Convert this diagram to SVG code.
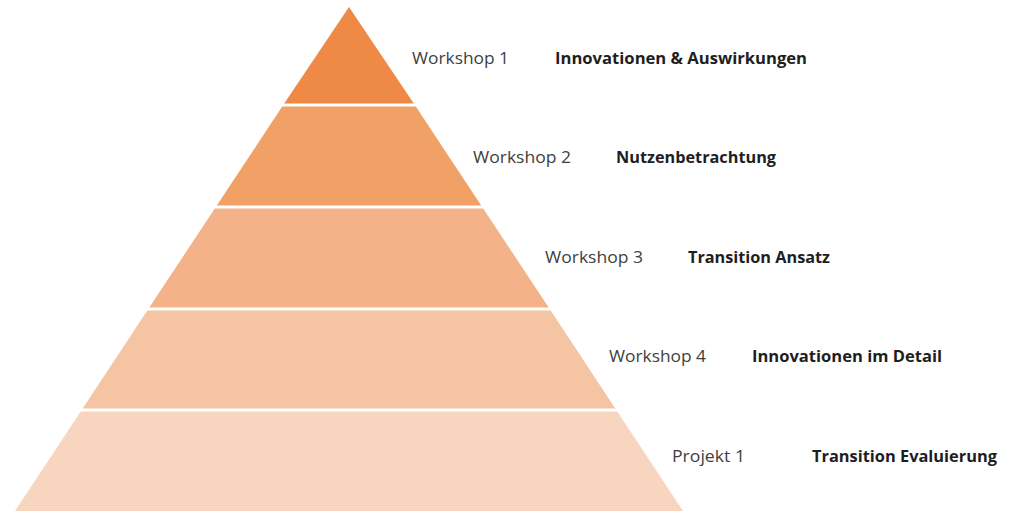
<svg xmlns="http://www.w3.org/2000/svg" width="1024" height="524" viewBox="0 0 1024 524">
<style>
.lbl{font-family:"Open Sans","Liberation Sans",sans-serif;font-size:16px;fill:#404040}
.ttl{font-family:"Open Sans","Liberation Sans",sans-serif;font-size:16px;font-weight:bold;fill:#1e1e1e}
.sep{stroke:#ffffff;stroke-width:3}
</style>
<rect width="1024" height="524" fill="#ffffff"/>
<g id="level1">
<polygon points="349,7 414.8,105 283.2,105" fill="#EE8A45"/>
<text class="lbl" x="412" y="64" textLength="97" lengthAdjust="spacingAndGlyphs">Workshop 1</text>
<text class="ttl" x="555" y="64" textLength="252" lengthAdjust="spacingAndGlyphs">Innovationen &amp; Auswirkungen</text>
</g>
<g id="level2">
<polygon points="283.2,105 414.8,105 482.2,207 215.8,207" fill="#F1A066"/>
<text class="lbl" x="473" y="163" textLength="98" lengthAdjust="spacingAndGlyphs">Workshop 2</text>
<text class="ttl" x="616" y="163" textLength="160" lengthAdjust="spacingAndGlyphs">Nutzenbetrachtung</text>
</g>
<g id="level3">
<polygon points="215.8,207 482.2,207 549.7,309 148.3,309" fill="#F3B287"/>
<text class="lbl" x="545" y="263" textLength="98" lengthAdjust="spacingAndGlyphs">Workshop 3</text>
<text class="ttl" x="688" y="263" textLength="142" lengthAdjust="spacingAndGlyphs">Transition Ansatz</text>
</g>
<g id="level4">
<polygon points="148.3,309 549.7,309 616.3,410 81.7,410" fill="#F5C4A2"/>
<text class="lbl" x="609" y="362" textLength="97" lengthAdjust="spacingAndGlyphs">Workshop 4</text>
<text class="ttl" x="752" y="362" textLength="190" lengthAdjust="spacingAndGlyphs">Innovationen im Detail</text>
</g>
<g id="level5">
<polygon points="81.7,410 616.3,410 683,511 15,511" fill="#F8D5BE"/>
<text class="lbl" x="672" y="462" textLength="73" lengthAdjust="spacingAndGlyphs">Projekt 1</text>
<text class="ttl" x="812" y="462" textLength="185" lengthAdjust="spacingAndGlyphs">Transition Evaluierung</text>
</g>
<g id="connectors">
<line class="sep" x1="270" y1="105" x2="430" y2="105"/>
<line class="sep" x1="200" y1="207" x2="500" y2="207"/>
<line class="sep" x1="130" y1="309" x2="570" y2="309"/>
<line class="sep" x1="60" y1="410" x2="640" y2="410"/>
</g>
</svg>
